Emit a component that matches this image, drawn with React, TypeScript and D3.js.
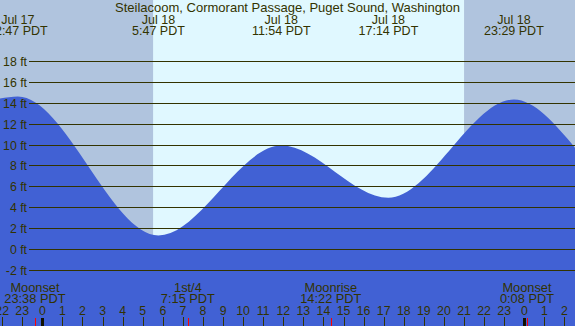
import React, { useRef, useEffect } from 'react';
import * as d3 from 'd3';

// Tide extremes (hours relative to Jul 18 00:00)
const tideDays = ['Jul 17', 'Jul 18', 'Jul 18', 'Jul 18', 'Jul 18'];
const tideClock = ['22:47', '5:47', '11:54', '17:14', '23:29'];
const tideHeights = [14.6, 1.3, 9.9, 4.9, 14.3];
// heights read at the left and right edges of the chart
const edgeHeights = [14.4, 9.7];

const sunTimes = ['5:31', '21:00']; // sunrise, sunset Jul 18

const moonNames = ['Moonset', '1st/4', 'Moonrise', 'Moonset'];
const moonDays = [-1, 0, 0, 1];
const moonClock = ['23:38', '7:15', '14:22', '0:08'];

const yTicks = [-2, 0, 2, 4, 6, 8, 10, 12, 14, 16, 18];
const hourTicks = d3.range(-2, 27);

const title = 'Steilacoom, Cormorant Passage, Puget Sound, Washington';

const toHours = (clock: string, dayOffset = 0) => {
  const [h, m] = clock.split(':').map(Number);
  return dayOffset * 24 + h + m / 60;
};

const width = 575;
const height = 326;
const ink = '#333300';
const font = '"Liberation Sans", Arial, sans-serif';

const TideChart: React.FC = () => {
  const svgRef = useRef<SVGSVGElement>(null);

  useEffect(() => {
    if (!svgRef.current) return;
    const svg = d3.select(svgRef.current);
    svg.selectAll('*').remove();

    const x = d3.scaleLinear().domain([0, 24]).range([42.3, 524.3]);
    const y = d3.scaleLinear().domain([0, 18]).range([249, 60.9]);

    // day / night background
    const sunrise = x(toHours(sunTimes[0]));
    const sunset = x(toHours(sunTimes[1]));
    svg.append('rect').attr('width', width).attr('height', height).attr('fill', '#b0c4de');
    svg.append('rect')
      .attr('x', sunrise).attr('y', 0)
      .attr('width', sunset - sunrise).attr('height', height)
      .attr('fill', '#e0f8ff');

    // tide curve
    const tideHours = tideClock.map((c, i) => toHours(c, tideDays[i] === 'Jul 17' ? -1 : 0));
    const pts: [number, number][] = [
      [x.invert(0), edgeHeights[0]],
      ...tideHours.map((h, i) => [h, tideHeights[i]] as [number, number]),
      [x.invert(width), edgeHeights[1]],
    ];
    const area = d3.area<[number, number]>()
      .x(d => x(d[0]))
      .y0(height)
      .y1(d => y(d[1]))
      .curve(d3.curveMonotoneX);
    svg.append('path').datum(pts).attr('d', area).attr('fill', '#4161d4');

    // grid lines + labels
    yTicks.forEach(t => {
      const yy = Math.round(y(t)) + 0.5;
      svg.append('line')
        .attr('x1', 29).attr('x2', width)
        .attr('y1', yy).attr('y2', yy)
        .attr('stroke', ink).attr('stroke-width', 1);
      svg.append('text')
        .attr('x', 27).attr('y', yy + 4)
        .attr('text-anchor', 'end')
        .attr('font-family', font).attr('font-size', 12.3)
        .attr('fill', ink)
        .text(`${t} ft`);
    });

    // title
    svg.append('text')
      .attr('x', width / 2).attr('y', 12)
      .attr('text-anchor', 'middle')
      .attr('font-family', font).attr('font-size', 13)
      .attr('fill', ink)
      .text(title);

    // tide time labels
    tideHours.forEach((h, i) => {
      const g = svg.append('g').attr('font-family', font).attr('font-size', 12.5)
        .attr('fill', ink).attr('text-anchor', 'middle');
      g.append('text').attr('x', x(h)).attr('y', 24).text(tideDays[i]);
      g.append('text').attr('x', x(h)).attr('y', 35).text(`${tideClock[i]} PDT`);
    });

    // moon events
    moonNames.forEach((name, i) => {
      const mx = x(toHours(moonClock[i], moonDays[i]));
      const g = svg.append('g').attr('font-family', font).attr('font-size', 12.8)
        .attr('fill', ink).attr('text-anchor', 'middle');
      g.append('text').attr('x', mx).attr('y', 292).text(name);
      g.append('text').attr('x', mx).attr('y', 303).text(`${moonClock[i]} PDT`);
    });

    // hour ticks
    hourTicks.forEach(h => {
      const hx = Math.round(x(h)) + 0.5;
      svg.append('text')
        .attr('x', x(h)).attr('y', 315)
        .attr('text-anchor', 'middle')
        .attr('font-family', font).attr('font-size', 12.3)
        .attr('fill', ink)
        .text(String(((h % 24) + 24) % 24));
      if (h % 24 === 0) {
        svg.append('rect')
          .attr('x', Math.round(x(h)) - 1).attr('y', 318)
          .attr('width', 3).attr('height', height - 318)
          .attr('fill', '#111100');
      } else {
        svg.append('line')
          .attr('x1', hx).attr('x2', hx)
          .attr('y1', 317).attr('y2', height)
          .attr('stroke', ink);
      }
    });

    moonClock.forEach((c, i) => {
      const mx = Math.round(x(toHours(c, moonDays[i]))) + 0.5;
      svg.append('line')
        .attr('x1', mx).attr('x2', mx)
        .attr('y1', 318).attr('y2', height)
        .attr('stroke', '#ff0000');
    });
  }, []);

  return <svg ref={svgRef} width={width} height={height} style={{ display: 'block' }} />;
};

export default function App() {
  return (
    <>
      <style>{'body{margin:0}'}</style>
      <TideChart />
    </>
  );
}
